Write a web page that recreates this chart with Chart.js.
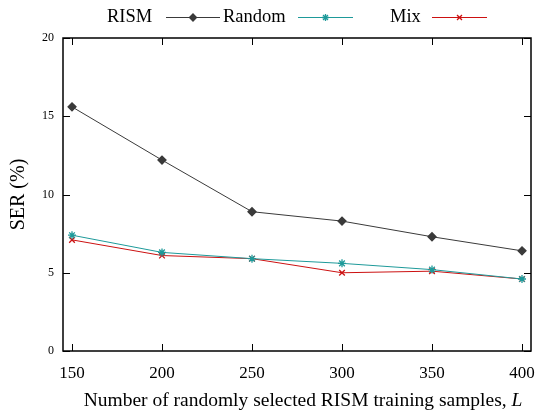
<!DOCTYPE html>
<html>
<head>
<meta charset="utf-8">
<script src="https://cdn.jsdelivr.net/npm/chart.js@4/dist/chart.umd.min.js"></script>
<style>
  html, body { margin: 0; padding: 0; background: #fff; }
  #wrap { width: 539px; height: 412px; }
</style>
</head>
<body>
<div id="wrap"><canvas id="grafico"></canvas></div>
<script>
// dados
const amostras = [150, 200, 250, 300, 350, 400]
const serRism = [15.6, 12.2, 8.9, 8.3, 7.3, 6.4]
const serRandom = [7.4, 6.3, 5.9, 5.6, 5.2, 4.6]
const serMix = [7.1, 6.1, 5.9, 5.0, 5.1, 4.6]
const ticksX = [150, 200, 250, 300, 350, 400]
const ticksY = [0, 5, 10, 15, 20]
const tituloX = 'Number of randomly selected RISM training samples, '
const tituloXVar = 'L'

const cores = {
    'RISM': '#3a3a3a',
    'Random': '#1e9a9a',
    'Mix': '#cc1111'
}
const marcadores = {
    'RISM': 'rectRot',
    'Random': 'star',
    'Mix': 'crossRot'
}
const raios = { 'RISM': 4, 'Random': 4, 'Mix': 4 }

const fonte = '"Liberation Serif", "DejaVu Serif", serif'

function serie(nome, valores) {
    return {
        label: nome,
        data: amostras.map((x, i) => ({ x: x, y: valores[i] })),
        borderColor: cores[nome],
        backgroundColor: cores[nome],
        borderWidth: 1,
        pointStyle: marcadores[nome],
        pointRadius: raios[nome],
        pointBorderWidth: 1.3,
        tension: 0
    }
}

// moldura com marcas para dentro, estilo gnuplot
const moldura = {
    id: 'moldura',
    afterDatasetsDraw(chart) {
        const ctx = chart.ctx
        const a = chart.chartArea
        const sx = chart.scales.x
        const sy = chart.scales.y
        ctx.save()
        ctx.strokeStyle = '#000'
        ctx.lineWidth = 1
        ctx.beginPath()
        ticksX.forEach(v => {
            const px = Math.round(sx.getPixelForValue(v)) + 0.5
            ctx.moveTo(px, a.bottom); ctx.lineTo(px, a.bottom - 7)
            ctx.moveTo(px, a.top); ctx.lineTo(px, a.top + 7)
        })
        ticksY.forEach(v => {
            const py = Math.round(sy.getPixelForValue(v)) + 0.5
            ctx.moveTo(a.left, py); ctx.lineTo(a.left + 7, py)
            ctx.moveTo(a.right, py); ctx.lineTo(a.right - 7, py)
        })
        ctx.stroke()
        ctx.lineWidth = 1.5
        ctx.strokeRect(a.left, a.top, a.right - a.left, a.bottom - a.top)

        // titulo do eixo x com o L em italico
        ctx.fillStyle = '#000'
        ctx.textBaseline = 'middle'
        ctx.font = '19.5px ' + fonte
        const w1 = ctx.measureText(tituloX).width
        ctx.font = 'italic 19.5px ' + fonte
        const w2 = ctx.measureText(tituloXVar).width
        const x0 = (a.left + a.right) / 2 + 6 - (w1 + w2) / 2
        ctx.font = '19.5px ' + fonte
        ctx.fillText(tituloX, x0, 401)
        ctx.font = 'italic 19.5px ' + fonte
        ctx.fillText(tituloXVar, x0 + w1, 401)
        ctx.restore()
    }
}

// legenda no topo: texto antes da amostra de linha
const legenda = {
    id: 'legenda',
    afterDraw(chart) {
        const ctx = chart.ctx
        const pos = {
            'RISM': { texto: 107, linha: [166, 220] },
            'Random': { texto: 223, linha: [298, 353] },
            'Mix': { texto: 390, linha: [432, 487] }
        }
        const y = 17
        ctx.save()
        ctx.font = '18.5px ' + fonte
        ctx.textBaseline = 'middle'
        chart.data.datasets.forEach(ds => {
            const p = pos[ds.label]
            ctx.fillStyle = '#000'
            ctx.fillText(ds.label, p.texto, y)
            ctx.strokeStyle = ds.borderColor
            ctx.lineWidth = 1
            ctx.beginPath()
            ctx.moveTo(p.linha[0], y + 0.5)
            ctx.lineTo(p.linha[1], y + 0.5)
            ctx.stroke()
            const meio = (p.linha[0] + p.linha[1]) / 2
            ctx.fillStyle = ds.backgroundColor
            ctx.lineWidth = 1.3
            Chart.helpers.drawPoint(ctx, {
                pointStyle: ds.pointStyle,
                radius: ds.pointRadius - 0.5,
                rotation: 0,
                borderWidth: 1.3
            }, meio, y + 0.5)
        })
        ctx.restore()
    }
}

const ctx = document.getElementById('grafico')

new Chart(ctx, {
    type: 'line',
    data: {
        datasets: [
            serie('RISM', serRism),
            serie('Random', serRandom),
            serie('Mix', serMix)
        ]
    },
    options: {
        responsive: true,
        maintainAspectRatio: false,
        animation: false,
        layout: {
            autoPadding: false,
            padding: { top: 38, right: 8, left: 0, bottom: 0 }
        },
        scales: {
            x: {
                type: 'linear',
                min: 145,
                max: 405,
                afterBuildTicks: s => { s.ticks = ticksX.map(v => ({ value: v })) },
                afterFit: s => {
                    s.height = 61
                    s.paddingLeft = 0
                    s.paddingRight = 0
                },
                grid: { display: false, drawTicks: false },
                border: { display: false },
                ticks: {
                    padding: 12,
                    color: '#000',
                    font: { family: fonte, size: 17 }
                },
                title: { display: false }
            },
            y: {
                min: 0,
                max: 20,
                afterBuildTicks: s => { s.ticks = ticksY.map(v => ({ value: v })) },
                afterFit: s => {
                    s.width = 63
                    s.paddingTop = 0
                    s.paddingBottom = 0
                },
                grid: { display: false, drawTicks: false },
                border: { display: false },
                ticks: {
                    padding: 9,
                    color: '#000',
                    font: { family: fonte, size: 12 }
                },
                title: {
                    display: true,
                    text: 'SER (%)',
                    color: '#000',
                    font: { family: fonte, size: 20 },
                    padding: { top: 7, bottom: 0 }
                }
            }
        },
        plugins: {
            legend: { display: false },
            tooltip: { enabled: false }
        }
    },
    plugins: [moldura, legenda]
})
</script>
</body>
</html>
